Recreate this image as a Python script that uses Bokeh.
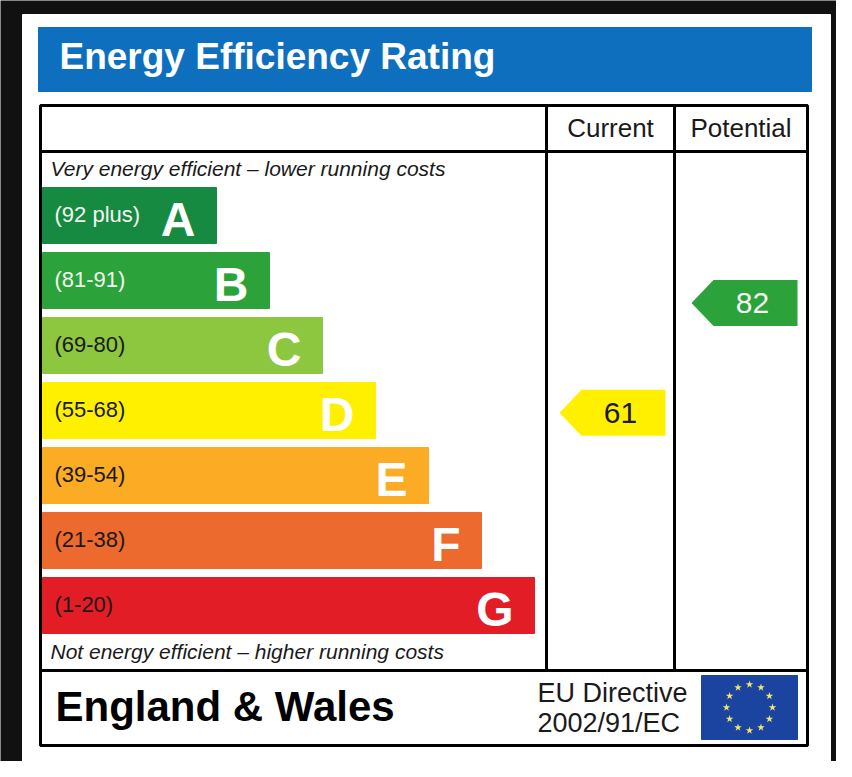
from bokeh.plotting import figure
from bokeh.models import Range1d
from bokeh.core.properties import value
from bokeh.embed import file_html
from bokeh.resources import INLINE
import numpy as np

# rating bands, best first
bands = ["A", "B", "C", "D", "E", "F", "G"]
band_labels = ["(92 plus)", "(81-91)", "(69-80)", "(55-68)", "(39-54)", "(21-38)", "(1-20)"]
band_min = [92, 81, 69, 55, 39, 21, 1]
band_max = [100, 91, 80, 68, 54, 38, 20]
band_colors = ["#168a41", "#2ca23a", "#8dc63f", "#fff000", "#fbab24", "#ec6a2d", "#e21d26"]

column_titles = ["Current", "Potential"]
ratings = [61, 82]

title = "Energy Efficiency Rating"
top_note = "Very energy efficient \u2013 lower running costs"
bottom_note = "Not energy efficient \u2013 higher running costs"
region = "England & Wales"
directive = ["EU Directive", "2002/91/EC"]

FONT = "Liberation Sans"

# layout (page pixels)
row_top0 = 187
row_step = 65
row_h = 56
bar_left = 42
bar_right0 = 216
bar_step = 53
col_edges = [546, 674, 807]


def band_of(score):
    for i in range(len(bands)):
        if band_min[i] <= score <= band_max[i]:
            return i
    return len(bands) - 1


p = figure(width=836, height=761, x_range=Range1d(0, 836), y_range=Range1d(761, 0),
           output_backend="svg", toolbar_location=None, min_border=0)
p.axis.visible = False
p.grid.visible = False
p.outline_line_color = None
p.background_fill_color = "#111111"
p.border_fill_color = "#111111"

# white card and blue title banner
p.quad(left=[22], right=[830], top=[14], bottom=[765], color="white")
p.quad(left=[38], right=[811], top=[27], bottom=[91], color="#0d6fbe")
p.text(x=[59], y=[56], text=[title], text_color="white", text_font=value(FONT),
       text_font_style="bold", text_font_size="37px", text_baseline="middle")

# table frame
lw = 3
p.quad(left=[40], right=[807], top=[105], bottom=[745], fill_color=None,
       line_color="black", line_width=lw)
p.segment(x0=[40, 40], y0=[151, 670], x1=[807, 807], y1=[151, 670], color="black", line_width=lw)
p.segment(x0=col_edges[:2], y0=[105, 105], x1=col_edges[:2], y1=[670, 670],
          color="black", line_width=lw)

# column titles
col_centers = [(col_edges[i] + col_edges[i + 1]) / 2 for i in range(2)]
p.text(x=col_centers, y=[127, 127], text=column_titles, text_color="#1a1a1a",
       text_font=value(FONT), text_font_size="26px", text_align="center",
       text_baseline="middle")

# band bars
idx = np.arange(len(bands))
tops = row_top0 + row_step * idx
rights = bar_right0 + bar_step * idx
p.quad(left=bar_left, right=rights, top=tops, bottom=tops + row_h, color=band_colors)

label_colors = ["#f2f7f2" if i < 2 else "#1a1a1a" for i in idx]
p.text(x=[54] * len(bands), y=tops + 27, text=band_labels, text_color=label_colors,
       text_font=value(FONT), text_font_size="22px", text_baseline="middle")
p.text(x=rights - 21, y=tops + 32, text=bands, text_color="white", text_font=value(FONT),
       text_font_style="bold", text_font_size="48px", text_align="right",
       text_baseline="middle")

p.text(x=[50], y=[168], text=[top_note], text_color="#1a1a1a", text_font=value(FONT),
       text_font_style="italic", text_font_size="21px", text_baseline="middle")
p.text(x=[50], y=[651], text=[bottom_note], text_color="#1a1a1a", text_font=value(FONT),
       text_font_style="italic", text_font_size="21px", text_baseline="middle")

# rating arrows
arrow_w = 106
arrow_h = 46
tip = 22
xs, ys, fills, tx, ty, tcol = [], [], [], [], [], []
for c, score in enumerate(ratings):
    b = band_of(score)
    frac = (band_max[b] - score) / (band_max[b] - band_min[b])
    cy = row_top0 + row_step * b + frac * row_h
    x0 = col_edges[c] + 13 + 4 * c
    x1 = x0 + arrow_w
    xs.append([x0, x0 + tip, x1, x1, x0 + tip])
    ys.append([cy, cy - arrow_h / 2, cy - arrow_h / 2, cy + arrow_h / 2, cy + arrow_h / 2])
    fills.append(band_colors[b])
    tx.append(x0 + arrow_w / 2 + 8)
    ty.append(cy)
    tcol.append("#f2f7f2" if b < 2 else "#1a1a1a")
p.patches(xs=xs, ys=ys, fill_color=fills, line_color=None)
p.text(x=tx, y=ty, text=[str(r) for r in ratings], text_color=tcol, text_font=value(FONT),
       text_font_size="30px", text_align="center", text_baseline="middle")

# footer
p.text(x=[55], y=[706], text=[region], text_color="black", text_font=value(FONT),
       text_font_style="bold", text_font_size="42px", text_baseline="middle")
p.text(x=[537, 537], y=[692, 722], text=directive, text_color="#1a1a1a",
       text_font=value(FONT), text_font_size="27px", text_baseline="middle")

# EU flag
p.quad(left=[701], right=[797], top=[675], bottom=[739], color="#1a44a0")
ang = np.arange(12) * np.pi / 6
p.scatter(x=749 + 23 * np.cos(ang), y=707 + 23 * np.sin(ang), marker="star", size=8,
          color="#f3e46a", line_color=None)

open("out.html", "w").write(file_html(p, INLINE))
